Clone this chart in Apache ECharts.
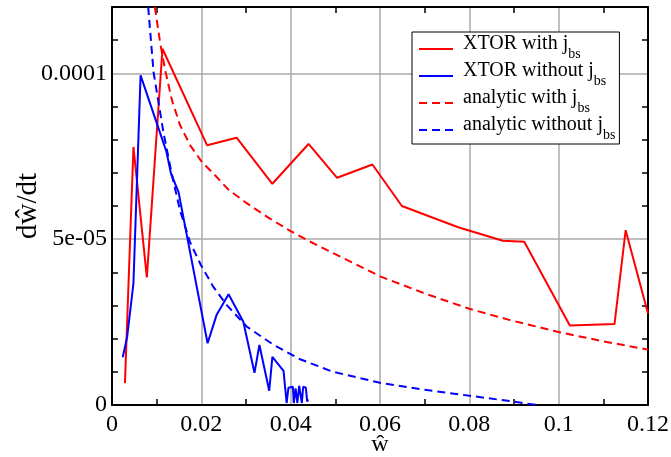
<!DOCTYPE html>
<html>
<head>
<meta charset="utf-8">
<script src="https://cdn.jsdelivr.net/npm/echarts@6/dist/echarts.min.js"></script>
<style>
  html, body { margin: 0; padding: 0; background: #ffffff; }
  #chart { width: 671px; height: 457px; }
</style>
</head>
<body>
<div id="chart"></div>
<script>
// Island width w (normalised) and its growth rate dw/dt

// XTOR simulation with bootstrap current
const xtorWithX = [0.0029, 0.0048, 0.0078, 0.0113, 0.0213, 0.0279, 0.0359, 0.0440, 0.0504,
                   0.0583, 0.0649, 0.0775, 0.0875, 0.0923, 0.1025, 0.1125, 0.1150, 0.1200];
const xtorWithY = [6.6e-6, 7.78e-5, 3.85e-5, 1.074e-4, 7.83e-5, 8.06e-5, 6.67e-5, 7.87e-5, 6.85e-5,
                   7.25e-5, 6.0e-5, 5.36e-5, 4.95e-5, 4.92e-5, 2.40e-5, 2.44e-5, 5.27e-5, 2.76e-5];

// XTOR simulation without bootstrap current
const xtorWithoutX = [0.0024, 0.0034, 0.0048, 0.0064, 0.0122, 0.0132, 0.0149, 0.0214, 0.0234,
                      0.0261, 0.0294, 0.0319, 0.0330, 0.0352, 0.0359, 0.0384, 0.0391, 0.0395,
                      0.0405, 0.0407, 0.0411, 0.0415, 0.0419, 0.0425, 0.0428, 0.0434, 0.0437, 0.0439];
const xtorWithoutY = [1.44e-5, 2.06e-5, 3.67e-5, 9.94e-5, 7.63e-5, 6.98e-5, 6.42e-5, 1.86e-5, 2.71e-5,
                      3.34e-5, 2.51e-5, 9.7e-6, 1.81e-5, 4.3e-6, 1.45e-5, 1.03e-5, 6e-7, 5.2e-6,
                      5.5e-6, 6e-7, 5.0e-6, 6e-7, 5.8e-6, 6e-7, 5.5e-6, 5.2e-6, 1.0e-6, 1.7e-6];

// Analytic estimate with bootstrap current
const analyticWithX = [0.0096, 0.0108, 0.0119, 0.0134, 0.0152, 0.0175, 0.0201, 0.0234, 0.0260,
                       0.0300, 0.0350, 0.0399, 0.0440, 0.0495, 0.0600, 0.0705, 0.0800, 0.0891,
                       0.1000, 0.1100, 0.1200];
const analyticWithY = [1.20e-4, 1.09e-4, 1.01e-4, 9.2e-5, 8.45e-5, 7.83e-5, 7.33e-5, 6.88e-5, 6.50e-5,
                       6.10e-5, 5.65e-5, 5.25e-5, 4.95e-5, 4.58e-5, 3.88e-5, 3.34e-5, 2.90e-5, 2.56e-5,
                       2.20e-5, 1.92e-5, 1.67e-5];

// Analytic estimate without bootstrap current
const analyticWithoutX = [0.0081, 0.0093, 0.0115, 0.0134, 0.0152, 0.0175, 0.0199, 0.0227, 0.0257,
                          0.0302, 0.0361, 0.0421, 0.0495, 0.0600, 0.0705, 0.0800, 0.0900, 0.0951];
const analyticWithoutY = [1.20e-4, 1.004e-4, 8.23e-5, 6.95e-5, 5.88e-5, 4.90e-5, 4.22e-5, 3.56e-5, 3.01e-5,
                          2.36e-5, 1.82e-5, 1.38e-5, 1.00e-5, 6.7e-6, 4.5e-6, 2.8e-6, 1.0e-6, 0];

const seriesNames = ['XTOR with jbs', 'XTOR without jbs', 'analytic with jbs', 'analytic without jbs'];

const xTickValues = [0, 0.02, 0.04, 0.06, 0.08, 0.1, 0.12];
const xTickLabels = ['0', '0.02', '0.04', '0.06', '0.08', '0.1', '0.12'];
const yTickValues = [0, 5e-5, 1e-4];
const yTickLabels = ['0', '5e-05', '0.0001'];

const FONT = 'Liberation Serif';

function pairs(xs, ys) {
  return xs.map((x, i) => [x, ys[i]]);
}

function lookupLabel(values, labels, tol) {
  return function (v) {
    for (let i = 0; i < values.length; i++) {
      if (Math.abs(v - values[i]) < tol) return labels[i];
    }
    return '';
  };
}

// Plain framing axis: black line, inward minor ticks, no labels
function frameAxis(extra) {
  return Object.assign({
    type: 'value',
    axisLine: { show: true, onZero: false, lineStyle: { color: '#000', width: 2 } },
    axisTick: { show: false, inside: true },
    axisLabel: { show: false },
    splitLine: { show: false }
  }, extra);
}

function minor(n) {
  return { show: true, splitNumber: n, length: 6, lineStyle: { color: '#000', width: 1.5 } };
}

const chart = echarts.init(document.getElementById('chart'), null, { renderer: 'canvas' });

const xRange = { min: 0, max: 0.12, interval: 0.02 };
const yRange = { min: 0, max: 1.2e-4, interval: 5e-5 };

chart.setOption({
  animation: false,
  backgroundColor: '#ffffff',
  grid: { left: 112, right: 23, top: 7, bottom: 52, containLabel: false, outerBoundsMode: 'none' },
  xAxis: [
    frameAxis(Object.assign({}, xRange, {
      position: 'bottom',
      minorTick: minor(2),
      axisLabel: {
        show: true, color: '#000', fontFamily: FONT, fontSize: 24, margin: 8,
        formatter: lookupLabel(xTickValues, xTickLabels, 1e-6)
      },
      splitLine: { show: true, lineStyle: { color: '#aaaaaa', width: 1.5 } },
      name: 'ŵ',
      nameLocation: 'middle',
      nameGap: 28,
      nameMoveOverlap: false,
      nameTextStyle: { color: '#000', fontFamily: FONT, fontSize: 24 }
    })),
    frameAxis(Object.assign({}, xRange, { position: 'top', minorTick: minor(2) }))
  ],
  yAxis: [
    frameAxis(Object.assign({}, yRange, {
      position: 'left',
      minorTick: minor(5),
      axisLabel: {
        show: true, color: '#000', fontFamily: FONT, fontSize: 24, margin: 5,
        formatter: lookupLabel(yTickValues, yTickLabels, 1e-9)
      },
      splitLine: { show: true, lineStyle: { color: '#aaaaaa', width: 1.5 } },
      name: 'dŵ/dt',
      nameLocation: 'middle',
      nameGap: 69,
      nameRotate: 90,
      nameMoveOverlap: false,
      nameTextStyle: { color: '#000', fontFamily: FONT, fontSize: 29 }
    })),
    frameAxis(Object.assign({}, yRange, { position: 'right', minorTick: minor(5) }))
  ],
  legend: {
    orient: 'vertical',
    left: 412,
    top: 32,
    padding: [2, 4, 2, 6],
    itemGap: 0,
    itemWidth: 34,
    itemHeight: 14,
    backgroundColor: '#ffffff',
    borderColor: '#000',
    borderWidth: 1,
    borderRadius: 0,
    itemStyle: { opacity: 0 },
    data: seriesNames,
    formatter: function (name) {
      return '{n|' + name.replace(/bs$/, '') + '}{s|bs}';
    },
    textStyle: {
      color: '#000',
      fontFamily: FONT,
      rich: {
        n: { fontFamily: FONT, fontSize: 20, lineHeight: 30, verticalAlign: 'top', color: '#000', padding: [0, 0, 0, 5] },
        s: { fontFamily: FONT, fontSize: 14, lineHeight: 14, verticalAlign: 'top', color: '#000', padding: [13, 0, 0, 0] }
      }
    }
  },
  series: [
    {
      name: seriesNames[0], type: 'line', symbol: 'none', clip: true,
      lineStyle: { color: '#ff0000', width: 2 }, itemStyle: { color: '#ff0000' },
      data: pairs(xtorWithX, xtorWithY)
    },
    {
      name: seriesNames[1], type: 'line', symbol: 'none', clip: true,
      lineStyle: { color: '#0000ff', width: 2 }, itemStyle: { color: '#0000ff' },
      data: pairs(xtorWithoutX, xtorWithoutY)
    },
    {
      name: seriesNames[2], type: 'line', symbol: 'none', clip: true,
      lineStyle: { color: '#ff0000', width: 2, type: [8, 5] }, itemStyle: { color: '#ff0000' },
      data: pairs(analyticWithX, analyticWithY)
    },
    {
      name: seriesNames[3], type: 'line', symbol: 'none', clip: true,
      lineStyle: { color: '#0000ff', width: 2, type: [8, 5] }, itemStyle: { color: '#0000ff' },
      data: pairs(analyticWithoutX, analyticWithoutY)
    }
  ]
});
</script>
</body>
</html>
